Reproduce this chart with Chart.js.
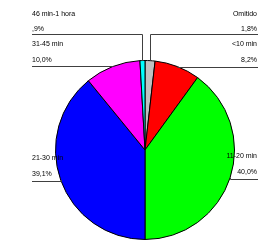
<!DOCTYPE html>
<html lang="es">
<head>
<meta charset="UTF-8" />
<title>Tiempo</title>
<script src="https://cdn.jsdelivr.net/npm/chart.js@4/dist/chart.umd.min.js"></script>
<style>
  html, body { margin: 0; padding: 0; background: #fff; }
  #wrap { width: 258px; height: 240px; }
</style>
</head>
<body>
<div id="wrap"><canvas id="myChart" width="258" height="240"></canvas></div>
<script>
const categories = ["Omitido", "<10 min", "11-20 min", "21-30 min", "31-45 min", "46 min-1 hora"];
const percents = [1.8, 8.2, 40.0, 39.1, 10.0, 0.9];
const sliceColors = ["#c0c0c0", "#ff0000", "#00ff00", "#0000ff", "#ff00ff", "#00ffff"];

// where each label sits: side, y of name, y of percentage, y of underline
const labelSpots = [
  { side: "right", nameY: 14, pctY: 29, lineY: 34 },
  { side: "right", nameY: 44, pctY: 60, lineY: 67 },
  { side: "right", nameY: 156, pctY: 172, lineY: 179 },
  { side: "left", nameY: 158, pctY: 174, lineY: 181 },
  { side: "left", nameY: 44, pctY: 60, lineY: 66 },
  { side: "left", nameY: 14, pctY: 29, lineY: 34 },
];

function pctText(v) {
  let s = v.toFixed(1).replace(".", ",");
  if (s.startsWith("0")) s = s.slice(1);
  return s + "%";
}

const leaderLabels = {
  id: "leaderLabels",
  afterDraw(chart) {
    const ctx = chart.ctx;
    const meta = chart.getDatasetMeta(0);
    const leftX = 32, rightX = 257;
    ctx.save();
    ctx.font = "7px 'Liberation Sans', Arial, sans-serif";
    ctx.textBaseline = "middle";
    meta.data.forEach((arc, i) => {
      const spot = labelSpots[i];
      const mid = (arc.startAngle + arc.endAngle) / 2;
      const ex = arc.x + Math.cos(mid) * arc.outerRadius;
      const ey = arc.y + Math.sin(mid) * arc.outerRadius;
      ctx.strokeStyle = "#404040";
      ctx.lineWidth = 1;
      ctx.beginPath();
      if (spot.side === "left") {
        ctx.moveTo(leftX, spot.lineY + 0.5);
      } else {
        ctx.moveTo(rightX + 1, spot.lineY + 0.5);
      }
      ctx.lineTo(Math.round(ex) + 0.5, spot.lineY + 0.5);
      ctx.lineTo(Math.round(ex) + 0.5, ey);
      ctx.stroke();
      ctx.fillStyle = "#000";
      ctx.textAlign = spot.side === "left" ? "left" : "right";
      const tx = spot.side === "left" ? leftX : rightX;
      ctx.fillText(categories[i], tx, spot.nameY);
      ctx.fillText(pctText(percents[i]), tx, spot.pctY);
    });
    ctx.restore();
  },
};

new Chart(document.getElementById("myChart"), {
  type: "pie",
  data: {
    labels: categories,
    datasets: [{
      data: percents,
      backgroundColor: sliceColors,
      borderColor: "#000",
      borderWidth: 1,
    }],
  },
  options: {
    responsive: false,
    animation: false,
    layout: { padding: { top: 60, bottom: 0, left: 55, right: 23 } },
    plugins: {
      legend: { display: false },
      tooltip: { enabled: false },
    },
  },
  plugins: [leaderLabels],
});
</script>
</body>
</html>
